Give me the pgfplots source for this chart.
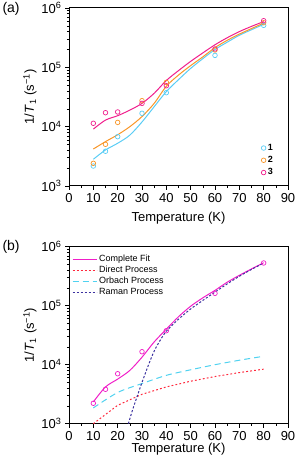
\documentclass[border=0pt]{standalone}
\usepackage{fontspec}
\setmainfont{Liberation Sans}
\usepackage{pgfplots}
\pgfplotsset{compat=1.18}
\definecolor{cA}{RGB}{90,205,245}
\definecolor{cB}{RGB}{248,150,40}
\definecolor{cC}{RGB}{240,30,140}
\definecolor{cFit}{RGB}{240,30,200}
\definecolor{cDir}{RGB}{255,40,60}
\definecolor{cOrb}{RGB}{80,210,240}
\definecolor{cRam}{RGB}{60,50,160}
\begin{document}
\begin{tikzpicture}
\path[use as bounding box] (0,0) rectangle (296pt,464pt);
% ---------------- panel (a)
\begin{axis}[scale only axis, width=219pt, height=178pt, at={(69pt,278pt)}, anchor=south west,
  xmin=0, xmax=90, ymode=log, ymin=1e3, ymax=1e6,
  xtick={0,10,...,90}, minor x tick num=1,
  ytick={1e3,1e4,1e5,1e6},
  yticklabels={10\textsuperscript{3},10\textsuperscript{4},10\textsuperscript{5},10\textsuperscript{6}},
  xtick pos=left, ytick pos=left, tick align=outside,
  major tick length=4pt, minor tick length=2.2pt,
  axis line style={line width=1pt},
  tick style={line width=0.6pt, black},
  xticklabel style={font=\fontsize{13}{15}\selectfont},
  yticklabel style={font=\fontsize{13}{15}\selectfont},
  /pgf/number format/assume math mode=true,
  xlabel={Temperature (K)},
  ylabel={1/\textit{T}\textsubscript{1} (s\textsuperscript{\char"2212 1})},
  xlabel style={font=\fontsize{13}{15}\selectfont, at={(axis description cs:0.5,-0.178)}, anchor=center},
  ylabel style={font=\fontsize{13}{15}\selectfont, at={(axis description cs:-0.178,0.5)}, anchor=center},
  legend style={draw=none, fill=none, at={(rel axis cs:0.955,0.03)}, anchor=south east,
    font=\fontsize{9}{11}\selectfont\bfseries, row sep=0.5pt},
  legend cell align=left]
\addplot[cA, line width=1pt, smooth, forget plot] coordinates {
(10,2820)(15,4050)(20,5250)(25,7200)(30,12000)(35,21700)(40,39000)(45,62000)(50,96000)(55,140000)(60,200000)(65,265000)(70,347000)(75,430000)(80,531000)};
\addplot[cB, line width=1pt, smooth, forget plot] coordinates {
(10,4200)(15,5600)(20,7300)(25,10000)(30,14800)(35,24700)(40,48000)(45,74000)(50,107000)(55,150000)(60,215000)(65,285000)(70,363000)(75,450000)(80,556000)};
\addplot[cC, line width=1pt, smooth, forget plot] coordinates {
(10,9100)(15,12900)(20,15300)(25,19000)(30,24700)(35,36500)(40,60000)(45,88000)(50,126000)(55,175000)(60,240000)(65,315000)(70,400000)(75,490000)(80,590000)};
\addplot[only marks, mark=o, mark size=2.3pt, cA, mark options={line width=0.7pt}] coordinates {
(10,2170)(15,3850)(20,6780)(30,16800)(40,37400)(60,159000)(80,510000)};
\addlegendentry{1}
\addplot[only marks, mark=o, mark size=2.3pt, cB, mark options={line width=0.7pt}] coordinates {
(10,2410)(15,5040)(20,11800)(30,27400)(40,55800)(60,196000)(80,565000)};
\addlegendentry{2}
\addplot[only marks, mark=o, mark size=2.3pt, cC, mark options={line width=0.7pt}] coordinates {
(10,11400)(15,17200)(20,17700)(30,24700)(40,49000)(60,204000)(80,611000)};
\addlegendentry{3}
\end{axis}
% ---------------- panel (b)
\begin{axis}[scale only axis, width=219pt, height=177pt, at={(69pt,40.3pt)}, anchor=south west,
  xmin=0, xmax=90, ymode=log, ymin=1e3, ymax=1e6,
  xtick={0,10,...,90}, minor x tick num=1,
  ytick={1e3,1e4,1e5,1e6},
  yticklabels={10\textsuperscript{3},10\textsuperscript{4},10\textsuperscript{5},10\textsuperscript{6}},
  xtick pos=left, ytick pos=left, tick align=outside,
  major tick length=4pt, minor tick length=2.2pt,
  axis line style={line width=1pt},
  tick style={line width=0.6pt, black},
  xticklabel style={font=\fontsize{13}{15}\selectfont},
  yticklabel style={font=\fontsize{13}{15}\selectfont},
  /pgf/number format/assume math mode=true,
  xlabel={Temperature (K)},
  ylabel={1/\textit{T}\textsubscript{1} (s\textsuperscript{\char"2212 1})},
  xlabel style={font=\fontsize{13}{15}\selectfont, at={(axis description cs:0.5,-0.141)}, anchor=center},
  ylabel style={font=\fontsize{13}{15}\selectfont, at={(axis description cs:-0.178,0.5)}, anchor=center},
  legend style={draw=none, fill=none, at={(rel axis cs:0.0,0.975)}, anchor=north west,
    font=\fontsize{9}{11}\selectfont, row sep=-1pt},
  legend image code/.code={\draw[#1] (0pt,0pt) -- (24pt,0pt);},
  legend cell align=left]
\addlegendimage{draw=cFit, line width=1pt}
\addlegendentry{Complete Fit}
\addplot[cFit, line width=1pt, smooth, forget plot] coordinates {
(10,2340)(15,4200)(20,5700)(25,8000)(30,13400)(35,24300)(40,40000)(45,65000)(50,98000)(55,136000)(60,182000)(65,250000)(70,327000)(75,420000)(80,535000)};
\addplot[cDir, line width=1pt, dash pattern=on 1.8pt off 2.2pt] coordinates {
(10,1000)(20,2050)(30,3150)(40,4200)(50,5250)(60,6300)(70,7350)(80,8400)};
\addlegendentry{Direct Process}
\addplot[cOrb, line width=1pt, dash pattern=on 6pt off 4pt, smooth] coordinates {
(10,1850)(20,3380)(30,4790)(40,6600)(50,8200)(60,10000)(70,11900)(80,13900)};
\addlegendentry{Orbach Process}
\addplot[cRam, line width=1pt, dash pattern=on 2.2pt off 1.8pt, smooth] coordinates {
(24.4,1000)(26,1650)(28,2900)(30,5000)(32.5,9500)(35,17000)(37.5,26000)(40,37000)(45,59000)(50,88000)(55,123000)(60,170000)(65,234000)(70,315000)(75,412000)(80,530000)};
\addlegendentry{Raman Process}
\addplot[only marks, mark=o, mark size=2.3pt, cFit, mark options={line width=0.7pt}, forget plot] coordinates {
(10,2220)(15,3830)(20,7030)(30,16600)(40,37700)(60,162000)(80,530000)};
\end{axis}
\node[anchor=west, font=\fontsize{14}{16}\selectfont] at (-1pt,455.5pt) {(a)};
\node[anchor=west, font=\fontsize{14}{16}\selectfont] at (-1pt,217pt) {(b)};
\end{tikzpicture}
\end{document}
